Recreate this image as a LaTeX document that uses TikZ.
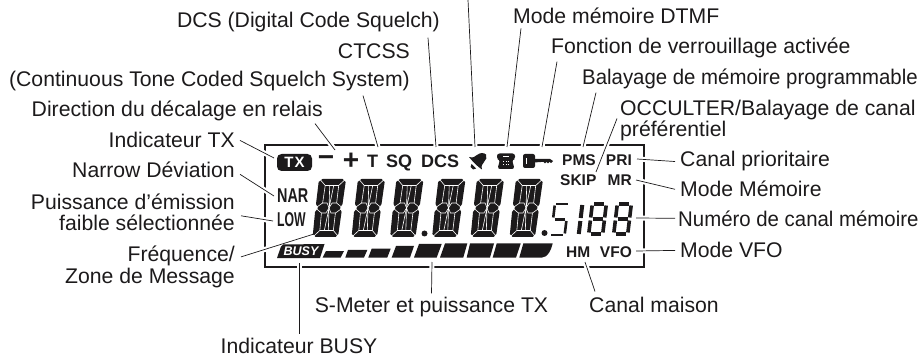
\documentclass[tikz,border=0pt]{standalone}
\usepackage{fontspec}
\setmainfont{Liberation Sans}
\usetikzlibrary{backgrounds}
\definecolor{lcdink}{HTML}{1C1A1B}
\tikzset{
  lbl/.style={inner sep=0pt,text=lcdink,font=\fontsize{21.2}{21}\selectfont},
  lblslim/.style={lbl,xscale=.962,transform shape},
  lcdtext/.style={inner sep=0pt,text=lcdink,font=\fontsize{18}{18}\selectfont\bfseries},
  lcdsmall/.style={inner sep=0pt,text=lcdink,font=\fontsize{15.5}{16}\selectfont\bfseries},
  lcdnarrow/.style={inner sep=0pt,text=lcdink,font=\fontsize{20}{20}\selectfont\bfseries,xscale=.72,transform shape},
  leader/.style={draw=lcdink,line width=.7pt,preaction={draw=white,line width=5pt}},
  segcut/.style={draw=white,line width=.6pt},
  smallseg/.style={draw=lcdink,line width=3.6pt},
  bigdigit/.pic={
    \begin{scope}[xslant=.12]
    \fill[lcdink] (3.5,0) -- (23.5,0) -- (27,3) -- (26.5,25) -- (24.5,29) -- (26.5,33) -- (26,55) -- (23.5,58)
      -- (3.5,58) -- (.5,55) -- (0,33) -- (2.5,29) -- (0,25) -- (0,3) -- cycle;
    \draw[segcut] (1.5,.8) -- (7,6.5) -- (20.5,6.5) -- (26,.8);
    \draw[segcut] (1.5,57.2) -- (7,51.5) -- (20.5,51.5) -- (26,57.2);
    \draw[segcut] (7,6.5) -- (6.5,24) -- (0,29) -- (6.5,34) -- (7,51.5);
    \draw[segcut] (20.5,6.5) -- (20.5,24) -- (27,29) -- (20.5,34) -- (20.5,51.5);
    \draw[segcut] (6.5,24) -- (11,24) -- (13.5,29) -- (11,34) -- (6.5,34);
    \draw[segcut] (20.5,24) -- (16,24) -- (13.5,29) -- (16,34) -- (20.5,34);
    \draw[segcut] (11.5,6.5) -- (13.5,29) -- (15.5,6.5);
    \draw[segcut] (11.5,51.5) -- (13.5,29) -- (15.5,51.5);
    \end{scope}
  },
  smalleight/.pic={
    \begin{scope}[xslant=.12]
    \draw[smallseg] (3.5,1.5) -- (13.5,1.5);
    \draw[smallseg] (15.5,3) -- (15.5,15);
    \draw[smallseg] (15.5,18) -- (15.5,30);
    \draw[smallseg] (3.5,31.5) -- (13.5,31.5);
    \draw[smallseg] (1.5,18) -- (1.5,30);
    \draw[smallseg] (1.5,3) -- (1.5,15);
    \draw[smallseg] (3.5,16.5) -- (13.5,16.5);
    \end{scope}
  },
  smallfive/.pic={
    \begin{scope}[xslant=.12]
    \draw[smallseg,line width=2.6pt] (2.5,1) -- (14.5,1);
    \draw[smallseg,line width=2.6pt] (1,2.5) -- (1,14.5);
    \draw[smallseg,line width=2.6pt] (2.5,16.5) -- (13,16.5);
    \draw[smallseg,line width=2.6pt] (14.5,18) -- (14.5,30.5);
    \draw[smallseg,line width=2.6pt] (1,32) -- (13,32);
    \end{scope}
  },
  smallone/.pic={
    \begin{scope}[xslant=.12]
    \draw[smallseg,line width=4pt] (1.5,2) -- (1.5,15);
    \draw[smallseg,line width=4pt] (1.5,18) -- (1.5,31);
    \end{scope}
  }
}
\begin{document}
\begin{tikzpicture}[x=1pt,y=-1pt]
\useasboundingbox (0,0) rectangle (920,355);
% labels, left and top
\node[lbl,anchor=base east] (lblDcs) at (440,28) {DCS (Digital Code Squelch)};
\node[lbl,anchor=base east] (lblCtcss) at (410,59) {CTCSS};
\node[lbl,anchor=base east] (lblTone) at (410,87) {(Continuous Tone Coded Squelch System)};
\node[lbl,anchor=base east] (lblShift) at (323,117) {Direction du décalage en relais};
\node[lbl,anchor=base east] (lblTx) at (235,148) {Indicateur TX};
\node[lbl,anchor=base east] (lblNar) at (235,178) {Narrow Déviation};
\node[lbl,anchor=base east,align=right] (lblLow) at (235,231) {Puissance d’émission\\faible sélectionnée};
\node[lbl,anchor=base east,align=right] (lblFreq) at (235,283) {Fréquence/\\Zone de Message};
\node[lbl,anchor=base west] (lblDtmf) at (513,24) {Mode mémoire DTMF};
\node[lbl,anchor=base west] (lblLock) at (551,54) {Fonction de verrouillage activée};
\node[lblslim,anchor=base west] (lblPms) at (582,85) {Balayage de mémoire programmable};
\node[lbl,anchor=base west,align=left] (lblSkip) at (620,137) {OCCULTER/Balayage de canal\\préférentiel};
% labels, right and bottom
\node[lbl,anchor=base west] (lblPri) at (680,167) {Canal prioritaire};
\node[lbl,anchor=base west] (lblMr) at (680,197) {Mode Mémoire};
\node[lblslim,anchor=base west] (lblNum) at (678,227) {Numéro de canal mémoire};
\node[lbl,anchor=base west] (lblVfo) at (680,258) {Mode VFO};
\node[lbl,anchor=base west] (lblHome) at (589,312) {Canal maison};
\node[lbl,anchor=base] (lblMeter) at (431.5,312) {S-Meter et puissance TX};
\node[lbl,anchor=base] (lblBusy) at (299,353) {Indicateur BUSY};
% free ends of the leaders
\coordinate (tipDcs) at (436,147);
\coordinate (tipT) at (378,147);
\coordinate (tipMinus) at (335,150);
\coordinate (tipTx) at (274,158);
\coordinate (tipNar) at (274,196);
\coordinate (tipLow) at (273,221);
\coordinate (tipDigit) at (314,234);
\coordinate (topBell) at (468,0);
\coordinate (tipBell) at (475,147);
\coordinate (tipPhone) at (507,147);
\coordinate (tipKey) at (542,147);
\coordinate (tipPms) at (583,147);
\coordinate (tipSkip) at (596,172);
\coordinate (tipPri) at (637,159);
\coordinate (tipMr) at (636,180);
\coordinate (tipNum) at (636,218);
\coordinate (tipVfo) at (636,251);
\coordinate (tipHome) at (585,262);
\coordinate (tipMeter) at (432,262);
\coordinate (tipBusy) at (299,263);
% lcd symbols
\node[inner sep=0pt,fill=lcdink,rounded corners=4.5pt,minimum width=35pt,minimum height=17pt,text=white,font=\fontsize{15}{15}\selectfont\bfseries\addfontfeature{LetterSpace=8}] (lcdTx) at (294.5,162.5) {TX};
\node[lcdtext,font=\fontsize{28}{28}\selectfont\bfseries] (lcdMinus) at (326,161) {−};
\node[lcdtext,font=\fontsize{28}{28}\selectfont\bfseries] (lcdPlus) at (351,161) {+};
\node[lcdtext,anchor=base west] (lcdT) at (367,168) {T};
\node[lcdtext,anchor=base west] (lcdSq) at (386,168) {SQ};
\node[lcdtext,anchor=base west] (lcdDcs) at (421,168) {DCS};
\node[lcdsmall,anchor=base west] (lcdPms) at (562,165.5) {PMS};
\node[lcdsmall,anchor=base east] (lcdPri) at (632,165.5) {PRI};
\node[lcdsmall,anchor=base west] (lcdSkip) at (560,186) {SKIP};
\node[lcdsmall,anchor=base east] (lcdMr) at (632,186) {MR};
\node[lcdsmall,anchor=base west] (lcdHm) at (566,258) {HM};
\node[lcdsmall,anchor=base east] (lcdVfo) at (632,258) {VFO};
\node[lcdnarrow,anchor=base west] (lcdNar) at (277,203) {NAR};
\node[lcdnarrow,anchor=base west,xscale=.85] (lcdLow) at (277,227) {LOW};
% bell, phone and key
\fill[lcdink] (469,157) .. controls (473,158) and (475,157) .. (477,155) .. controls (480,152.5) and (484,152.5) .. (486,154.5)
  .. controls (487.5,157) and (486,160) .. (484,162) .. controls (482,164) and (481,166) .. (482,169.5) .. controls (478,167) and (473,162) .. cycle;
\fill[lcdink] (471.5,164) -- (476,168.5) -- (473,169.5) -- (470.5,167) -- cycle;
\fill[lcdink,rounded corners=2.5pt] (497,153.5) -- (515,153.5) -- (515,159.5) -- (512,159.5) -- (514.5,169) -- (497.5,169) -- (500,159.5) -- (497,159.5) -- cycle;
\fill[white] (503,156.5) rectangle (509,157.5);
\foreach \dy in {161,164} \foreach \dx in {503,505.5,508} \fill[white] (\dx,\dy) rectangle +(1.4,1.4);
\fill[lcdink,rounded corners=2pt] (523,154) rectangle (535,168);
\fill[white] (525.5,158) rectangle (527,164);
\fill[lcdink] (534,159) -- (550,159) -- (553,161) -- (551,163) -- (549.5,161.8) -- (548,163.5) -- (546.5,161.8) -- (545,163.5) -- (543.5,161.8) -- (534,162.5) -- cycle;
% segment digits
\foreach \dx in {319,358,396.5,438.5,477,516} \pic at (\dx,179) {bigdigit};
\fill[lcdink] (424.5,233.5) circle (3);
\fill[lcdink] (544.5,233) circle (3);
\pic at (554,203) {smallfive};
\pic at (581,203) {smallone};
\pic at (591,202.5) {smalleight};
\pic at (616,202.5) {smalleight};
% busy tag and s-meter
\fill[lcdink] (277,258) -- (281,246.5) -- (283,244.5) -- (324.5,244) -- (320,258) -- cycle;
\node[inner sep=0pt,text=white,font=\fontsize{12.5}{12.5}\selectfont\bfseries\itshape] (lcdBusy) at (301,251) {BUSY};
\foreach \a/\b/\c/\d/\t in {322.7/340.7/326/344/251,345.3/364/348/367.3/250,368.3/387.3/371.7/390.7/248.7,391.7/410/396/414/246,414/436.7/419/441.7/244,440/463.3/445/467.3/243.5,466.7/490/470/494/243.5,492.7/516/496.7/520.7/243.5}
  \fill[lcdink] (\a,257.5) -- (\b,257.5) -- (\d,\t) -- (\c,\t) -- cycle;
\fill[lcdink] (519.3,257.5) -- (542,257.5) .. controls (548,257.5) and (551,250) .. (552.7,243.5) -- (523.3,243.5) -- cycle;
% frame and leaders
\begin{pgfonlayer}{background}
\draw[lcdink,line width=2pt] (265,145) rectangle (644,267);
\draw[leader] ([shift={(-12,5)}]lblDcs.south east) -- (tipDcs);
\draw[leader] ([shift={(-47,4)}]lblTone.south east) -- (tipT);
\draw[leader] ([shift={(-8,2)}]lblShift.south east) -- (tipMinus);
\draw[leader] ([xshift=5pt]lblTx.east) -- (tipTx);
\draw[leader] ([shift={(5,4)}]lblNar.east) -- (tipNar);
\draw[leader] ([shift={(6,3)}]lblLow.east) -- (tipLow);
\draw[leader] ([shift={(6,-10)}]lblFreq.east) -- (tipDigit);
\draw[leader] (topBell) -- (tipBell);
\draw[leader] ([shift={(8,4)}]lblDtmf.south west) -- (tipPhone);
\draw[leader] ([shift={(6,3)}]lblLock.south west) -- (tipKey);
\draw[leader] ([shift={(14,3)}]lblPms.south west) -- (tipPms);
\draw[leader] ([shift={(-3,-23)}]lblSkip.south west) -- (tipSkip);
\draw[leader] (tipPri) -- ([xshift=-5pt]lblPri.west);
\draw[leader] (tipMr) -- ([xshift=-5pt]lblMr.west);
\draw[leader] (tipNum) -- ([shift={(-3,-1)}]lblNum.west);
\draw[leader] (tipVfo) -- ([xshift=-5pt]lblVfo.west);
\draw[leader] (tipHome) -- ([shift={(6,-5)}]lblHome.north west);
\draw[leader] (tipMeter) -- ([yshift=3pt]lblMeter.north);
\draw[leader] (tipBusy) -- ([yshift=3pt]lblBusy.north);
\end{pgfonlayer}
\end{tikzpicture}
\end{document}
